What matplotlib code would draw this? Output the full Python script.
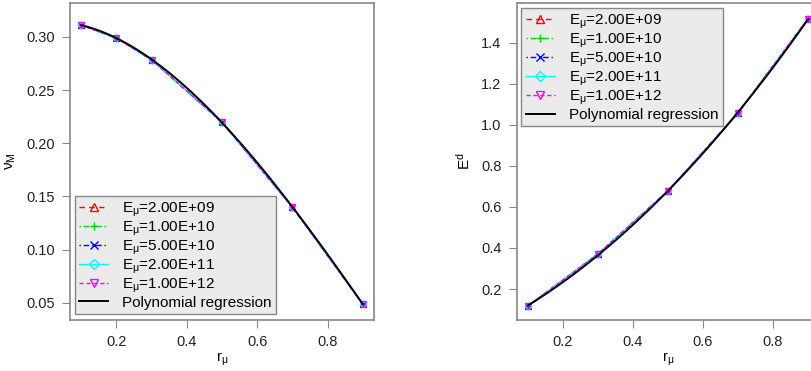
import numpy as np
import matplotlib
matplotlib.use('Agg')
import matplotlib.pyplot as plt

plt.rcParams['font.family'] = ['Liberation Sans', 'DejaVu Sans']
plt.rcParams['mathtext.fontset'] = 'custom'
plt.rcParams['mathtext.rm'] = 'Liberation Sans'
plt.rcParams['mathtext.it'] = 'Liberation Sans'
plt.rcParams['font.size'] = 10

# values (all E series overlap)
r_left = [0.1, 0.2, 0.3, 0.5, 0.7, 0.9]
nu_M = [0.311, 0.2988, 0.2784, 0.2198, 0.140, 0.049]
r_right = [0.1, 0.3, 0.5, 0.7, 0.9]
E_d = [0.117, 0.370, 0.677, 1.056, 1.515]

E_labels = ['2.00E+09', '1.00E+10', '5.00E+10', '2.00E+11', '1.00E+12']
colors = ['red', '#00cc00', 'blue', 'cyan', 'magenta']
markers = ['^', '+', 'x', 'D', 'v']
styles = [(0, (4, 3)), (0, (1, 2, 4, 2)), (0, (1, 2, 4, 2)), '-', (0, (3, 2))]

spine_col = '#888888'


def draw_panel(ax, x, y, deg):
    for lab, c, m, ls in zip(E_labels, colors, markers, styles):
        ax.plot(x, y, color=c, linestyle=ls, marker=m, markersize=4 if m != 'D' else 3.5,
                markerfacecolor='none', markeredgewidth=1, linewidth=1,
                label=r'$\mathregular{E_{\mu}}$=' + lab)
    coef = np.polyfit(x, y, deg)
    xs = np.linspace(min(x), max(x), 200)
    ax.plot(xs, np.polyval(coef, xs), color='black', linewidth=1.4,
            label='Polynomial regression')
    ax.set_xlim(0.068, 0.932)
    ax.set_xticks([0.2, 0.4, 0.6, 0.8])
    for s in ax.spines.values():
        s.set_color(spine_col)
        s.set_linewidth(1.2)
    ax.tick_params(direction='out', length=6, pad=5, color=spine_col, labelsize=10.5,
                   labelcolor='#222222')
    ax.set_xlabel(r'$\mathregular{r_{\mu}}$', labelpad=1, fontsize=10.5)


def add_legend(ax, loc, anchor):
    ax.legend(loc=loc, bbox_to_anchor=anchor, fancybox=False,
              facecolor='#ebebeb', edgecolor=spine_col, framealpha=1,
              handlelength=1.9, handletextpad=0.9, labelspacing=0.05,
              borderpad=0.3, borderaxespad=0.2, markerscale=1.6, fontsize=11)


fig = plt.figure(figsize=(8.11, 3.71), dpi=100)

ax1 = fig.add_axes([70 / 811, 51 / 371, 304 / 811, 317.3 / 371])
draw_panel(ax1, r_left, nu_M, 3)
ax1.set_ylim(0.034, 0.332)
ax1.set_yticks([0.05, 0.10, 0.15, 0.20, 0.25, 0.30])
ax1.set_yticklabels(['0.05', '0.10', '0.15', '0.20', '0.25', '0.30'])
ax1.set_ylabel(r'$\mathregular{\nu_M}$', labelpad=6, fontsize=11)
add_legend(ax1, 'lower left', (0.005, 0.008))

ax2 = fig.add_axes([516.7 / 811, 51 / 371, 302.3 / 811, 317.3 / 371])
draw_panel(ax2, r_right, E_d, 2)
ax2.set_ylim(0.049, 1.595)
ax2.set_yticks([0.2, 0.4, 0.6, 0.8, 1.0, 1.2, 1.4])
ax2.set_ylabel(r'$\mathregular{E^{d}}$', labelpad=6, fontsize=11)
add_legend(ax2, 'upper left', (0.005, 0.993))

fig.savefig('out.png', dpi=100)
